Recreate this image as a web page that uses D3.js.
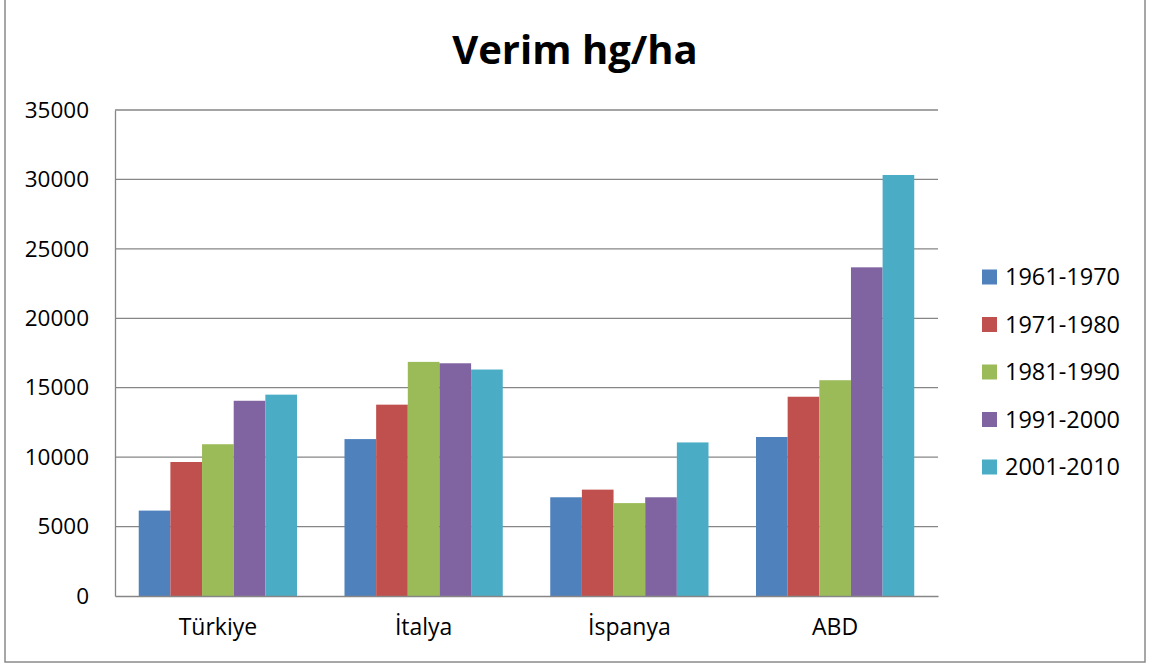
<!DOCTYPE html>
<html><head><meta charset="utf-8">
<script src="https://cdn.jsdelivr.net/npm/d3@7"></script>
<style>body{margin:0;background:#fff}svg{display:block}text{font-family:"Open Sans",sans-serif;fill:#000}</style>
</head><body>
<svg id="chart" width="1150" height="664"></svg>
<script>
const title = "Verim hg/ha";
const categories = ["Türkiye", "İtalya", "İspanya", "ABD"];
const seriesNames = ["1961-1970", "1971-1980", "1981-1990", "1991-2000", "2001-2010"];
const colors = ["#4F81BD", "#C0504D", "#9BBB59", "#8064A2", "#4BACC6"];
const s1961 = [6150, 11300, 7110, 11450];
const s1971 = [9650, 13780, 7660, 14350];
const s1981 = [10930, 16860, 6690, 15540];
const s1991 = [14060, 16760, 7110, 23670];
const s2001 = [14500, 16310, 11060, 30320];
const seriesValues = [s1961, s1971, s1981, s1991, s2001];
const yTicks = [0, 5000, 10000, 15000, 20000, 25000, 30000, 35000];

const svg = d3.select("#chart");
const L = 115, R = 938, T = 110, B = 596;

// outer frame
svg.append("rect").attr("x", 5).attr("y", -5).attr("width", 1140).attr("height", 667)
  .attr("fill", "none").attr("stroke", "#8a8a8a").attr("stroke-width", 1.5);

svg.append("text").attr("x", 575).attr("y", 64).attr("text-anchor", "middle")
  .style("font-size", "40px").style("font-weight", "bold").text(title);

const y = d3.scaleLinear().domain([0, 35000]).range([B, T]);
const x0 = d3.scaleBand().domain(categories).range([L, R]).padding(0);
const bw = x0.bandwidth();
const unit = bw / 6.5;
const x1 = d3.scaleBand().domain(seriesNames).range([unit * 0.75, bw - unit * 0.75]).padding(0);

// gridlines
svg.append("g").selectAll("line").data(yTicks.filter(d => d > 0)).join("line")
  .attr("x1", L).attr("x2", R).attr("y1", d => y(d)).attr("y2", d => y(d))
  .attr("stroke", "#868686").attr("stroke-width", 1.3);

// y axis
const yAxis = svg.append("g").attr("transform", `translate(${L},0)`)
  .call(d3.axisLeft(y).tickValues(yTicks).tickSize(0).tickPadding(26).tickFormat(d3.format("d")));
yAxis.select(".domain").attr("stroke", "#868686").attr("stroke-width", 1.3);
yAxis.selectAll("text").style("font-size", "22.5px").style("font-family", "'Open Sans',sans-serif").attr("fill", "#000");

// bars
const groups = svg.append("g").selectAll("g").data(categories).join("g")
  .attr("transform", d => `translate(${x0(d)},0)`);
groups.selectAll("rect").data((c, ci) => seriesNames.map((s, si) => ({s, si, v: seriesValues[si][ci]})))
  .join("rect")
  .attr("x", d => x1(d.s)).attr("width", x1.bandwidth())
  .attr("y", d => y(d.v)).attr("height", d => B - y(d.v))
  .attr("fill", d => colors[d.si]);

// x axis
const xAxis = svg.append("g").attr("transform", `translate(0,${B})`)
  .call(d3.axisBottom(x0).tickSize(0).tickPadding(23));
xAxis.select(".domain").attr("stroke", "#868686").attr("stroke-width", 1.3);
xAxis.selectAll("text").style("font-size", "23px").style("font-family", "'Open Sans',sans-serif").attr("fill", "#000");

// legend
const lg = svg.append("g").selectAll("g").data(seriesNames).join("g")
  .attr("transform", (d, i) => `translate(982,${277 + i * 47.5})`);
lg.append("rect").attr("x", 0).attr("y", -7.5).attr("width", 15).attr("height", 15)
  .attr("fill", (d, i) => colors[i]);
lg.append("text").attr("x", 23).attr("y", 0).attr("dy", "0.36em")
  .style("font-size", "23.5px").text(d => d);
</script>
</body></html>
